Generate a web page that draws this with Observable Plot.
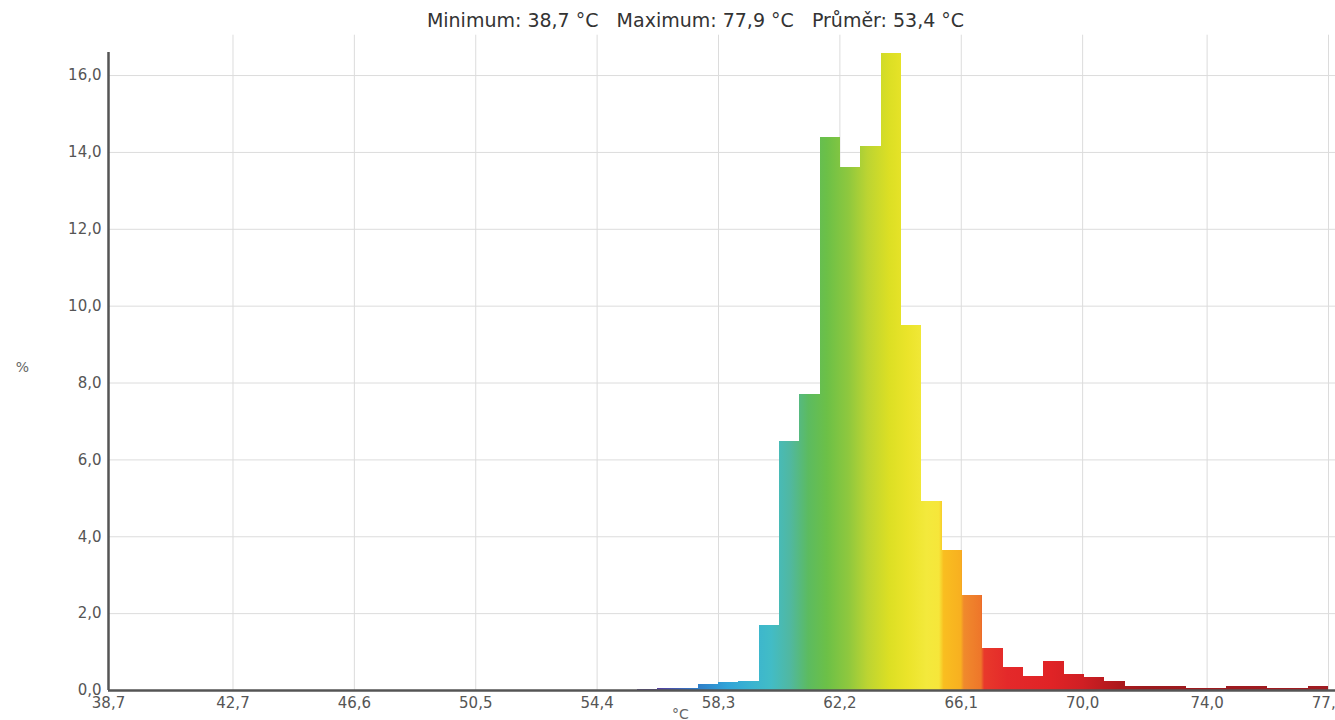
<!DOCTYPE html>
<html>
<head>
<meta charset="utf-8">
<script src="https://cdn.jsdelivr.net/npm/d3@7"></script>
<script src="https://cdn.jsdelivr.net/npm/@observablehq/plot@0.6"></script>
<style>
  html, body { margin: 0; padding: 0; background: #fff; overflow: hidden; }
  #title { height: 36px; line-height: 40px; font-family: "DejaVu Sans", sans-serif; font-size: 19px; color: #333; text-align: center; padding-left: 56px; white-space: pre; }
  svg { display: block; }
</style>
</head>
<body>
<div id="title"></div>
<div id="chart"></div>
<script>
// ---- data ----
const tempMin = 38.7;
const tempMax = 77.9;
const tempMean = 53.4;
const binCount = 60;
// percentage of samples per bin (bin 0 starts at tempMin)
const percentages = [
  0, 0, 0, 0, 0, 0, 0, 0, 0, 0,
  0, 0, 0, 0, 0, 0, 0, 0, 0, 0,
  0, 0, 0, 0, 0.01, 0.01, 0.02, 0.06, 0.04, 0.15,
  0.20, 0.23, 1.69, 6.49, 7.70, 14.40, 13.60, 14.15, 16.57, 9.50,
  4.93, 3.64, 2.47, 1.09, 0.60, 0.36, 0.75, 0.42, 0.34, 0.24,
  0.11, 0.11, 0.11, 0.05, 0.06, 0.11, 0.11, 0.06, 0.06, 0.10
];
const xTickValues = [38.7, 42.7, 46.6, 50.5, 54.4, 58.3, 62.2, 66.1, 70.0, 74.0, 77.9];
const yTickValues = [0, 2, 4, 6, 8, 10, 12, 14, 16];
const yMax = 16.6;
// spectrum colour stops (temperature -> colour)
const stopTemps = [54.4, 56.4, 57.6, 58.6, 59.4, 60.0, 60.6, 61.2, 61.8, 62.5, 63.1, 63.8, 64.4, 65.0, 65.4, 65.55, 66.1, 66.2, 66.75, 66.85, 67.6, 69.0, 70.0, 71.2, 72.0, 77.9];
const stopColors = ["#6b4a9b", "#5540a0", "#2f7cc8", "#30a4d8", "#3ab4d0", "#42bcc6", "#50b8a2", "#5cbb60", "#6cc047", "#8fc83e", "#bcd432", "#dcdf24", "#ebe42a", "#f3e93c", "#f6e63a", "#f9be20", "#f8b020", "#f08a2c", "#ee762a", "#e8392b", "#e4292a", "#e02326", "#d01f24", "#ad181c", "#9c1a1e", "#a01c22"];

const fmt = d => d.toFixed(1).replace(".", ",");
document.getElementById("title").textContent =
  `Minimum: ${fmt(tempMin)} °C   Maximum: ${fmt(tempMax)} °C   Průměr: ${fmt(tempMean)} °C`;

const binWidth = (tempMax - tempMin) / binCount;
const bins = percentages.map((v, i) => ({x1: tempMin + i * binWidth, x2: tempMin + (i + 1) * binWidth, y: v}));

const chart = Plot.plot({
  width: 1335,
  height: 684,
  marginLeft: 108,
  marginRight: 7,
  marginTop: 16,
  marginBottom: 30,
  style: {fontFamily: "DejaVu Sans, sans-serif", fontSize: "15px", color: "#555", background: "#fff", overflow: "visible"},
  x: {domain: [tempMin, tempMax], ticks: xTickValues, tickFormat: fmt, tickSize: 0, tickPadding: 7, label: null},
  y: {domain: [0, yMax], ticks: yTickValues, tickFormat: fmt, tickSize: 0, tickPadding: 7, label: null},
  marks: [
    Plot.ruleX(xTickValues.slice(1), {y1: 0, y2: 17.05, stroke: "#dcdcdc", strokeWidth: 1}),
    Plot.ruleY(yTickValues.slice(1), {x1: tempMin, x2: tempMax + 1, stroke: "#dcdcdc", strokeWidth: 1}),
    Plot.rectY(bins, {x1: "x1", x2: "x2", y: "y", fill: "url(#spectrum)", shapeRendering: "crispEdges"}),
    Plot.ruleY([0], {x1: tempMin, x2: tempMax + 1, stroke: "#555", strokeWidth: 2.5}),
    Plot.ruleX([tempMin], {y1: 0, y2: yMax, stroke: "#555", strokeWidth: 2.5}),
    Plot.text(["%"], {frameAnchor: "left", dx: -86, dy: -4, fill: "#666", fontSize: 14, textAnchor: "middle"}),
    Plot.text(["°C"], {frameAnchor: "bottom", dx: -38, dy: 28, fill: "#666", fontSize: 14, textAnchor: "middle"})
  ]
});

// gradient along the temperature axis
const sx = chart.scale("x");
const svgSel = d3.select(chart);
const grad = svgSel.insert("defs", ":first-child")
  .append("linearGradient")
  .attr("id", "spectrum")
  .attr("gradientUnits", "userSpaceOnUse")
  .attr("x1", sx.apply(tempMin)).attr("x2", sx.apply(tempMax))
  .attr("y1", 0).attr("y2", 0);
stopTemps.forEach((t, i) => {
  grad.append("stop")
    .attr("offset", (t - tempMin) / (tempMax - tempMin))
    .attr("stop-color", stopColors[i]);
});

document.getElementById("chart").appendChild(chart);
</script>
</body>
</html>
